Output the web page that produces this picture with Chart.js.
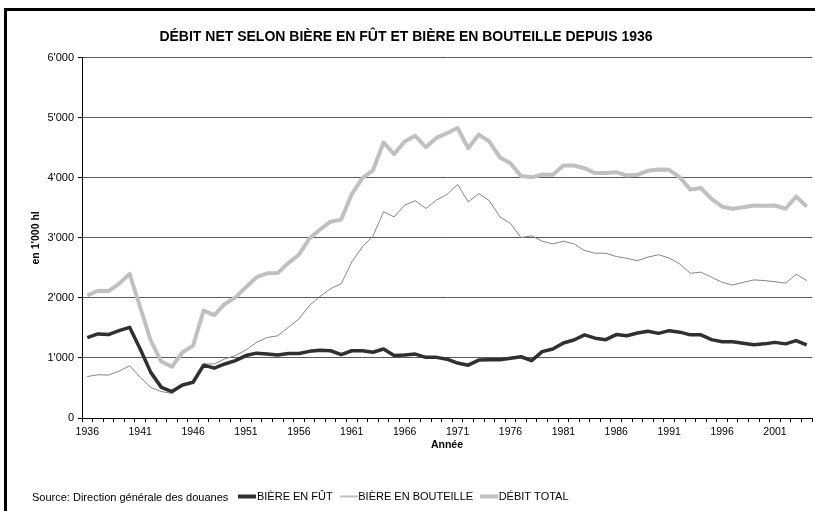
<!DOCTYPE html>
<html>
<head>
<meta charset="utf-8">
<script src="https://cdn.jsdelivr.net/npm/chart.js@4.4.0/dist/chart.umd.min.js"></script>
<style>
    html, body { margin: 0; padding: 0; background: #fff; }
    #wrap { position: relative; width: 815px; height: 511px; overflow: hidden; }
    #frame { position: absolute; left: 4px; top: 8px; width: 900px; height: 600px;
             border-top: 3px solid #000; border-left: 3px solid #000; }
    #lineChart { position: absolute; left: 0; top: 0; }
    #source { position: absolute; left: 32px; top: 491px; line-height: 13px;
              font: 11px "Liberation Sans", Arial, sans-serif; color: #000; white-space: nowrap; }
</style>
</head>
<body>
<div id="wrap">
    <div id="frame"></div>
    <canvas id="lineChart" width="815" height="512"></canvas>
    <div id="source">Source: Direction générale des douanes</div>
</div>
<script>
    /* Data (en 1'000 hl) */
    const years = [
        "1936","1937","1938","1939","1940","1941","1942","1943","1944","1945",
        "1946","1947","1948","1949","1950","1951","1952","1953","1954","1955",
        "1956","1957","1958","1959","1960","1961","1962","1963","1964","1965",
        "1966","1967","1968","1969","1970","1971","1972","1973","1974","1975",
        "1976","1977","1978","1979","1980","1981","1982","1983","1984","1985",
        "1986","1987","1988","1989","1990","1991","1992","1993","1994","1995",
        "1996","1997","1998","1999","2000","2001","2002","2003","2004",
    ];

    const biereFut = [
        1340, 1400, 1390, 1455, 1510, 1150, 760, 510, 440, 550,
        595, 880, 830, 900, 955, 1040, 1080, 1065, 1050, 1075,
        1075, 1110, 1130, 1120, 1055, 1120, 1120, 1095, 1150, 1040,
        1050, 1065, 1010, 1010, 980, 915, 880, 965, 970, 970,
        995, 1020, 955, 1105, 1150, 1250, 1300, 1385, 1330, 1305,
        1390, 1370, 1415, 1445, 1410, 1455, 1430, 1385, 1385, 1305,
        1270, 1270, 1245, 1220, 1235, 1260, 1235, 1290, 1220,
    ];

    const biereBouteille = [
        690, 720, 715, 780, 870, 680, 510, 440, 410, 535,
        585, 900, 900, 985, 1040, 1135, 1260, 1340, 1370, 1510,
        1650, 1875, 2025, 2155, 2235, 2600, 2850, 3030, 3435, 3350,
        3545, 3620, 3490, 3630, 3725, 3890, 3600, 3740, 3620, 3350,
        3240, 3005, 3035, 2945, 2900, 2945, 2900, 2790, 2745, 2745,
        2690, 2660, 2620, 2680, 2720, 2665, 2565, 2410, 2430, 2345,
        2260, 2215, 2260, 2300, 2290, 2270, 2245, 2395, 2290,
    ];

    const debitTotal = [
        2040, 2120, 2115, 2235, 2400, 1845, 1290, 940, 855, 1095,
        1205, 1790, 1715, 1900, 2010, 2180, 2345, 2410, 2415, 2580,
        2720, 2990, 3140, 3270, 3305, 3730, 3995, 4125, 4590, 4395,
        4605, 4700, 4510, 4665, 4745, 4830, 4495, 4720, 4605, 4340,
        4245, 4030, 4010, 4055, 4050, 4205, 4205, 4160, 4080, 4080,
        4095, 4040, 4050, 4120, 4140, 4135, 4010, 3805, 3830, 3650,
        3520, 3485, 3510, 3540, 3535, 3540, 3485, 3690, 3520,
    ];

    const yTicks = [0, 1000, 2000, 3000, 4000, 5000, 6000];

    const FONT = '"Liberation Sans", Arial, sans-serif';
    Chart.defaults.font.family = FONT;
    Chart.defaults.color = '#000';

    // legend marker: a short line segment that runs straight into the label text
    function legendLine(color, width) {
        const c = document.createElement('canvas');
        c.width = 18;
        c.height = 8;
        const g = c.getContext('2d');
        g.fillStyle = color;
        g.fillRect(0, (8 - width) / 2, 18, width);
        return c;
    }

    new Chart(document.getElementById('lineChart'), {
        type: 'line',
        data: {
            labels: years,
            datasets: [
                { label: 'BIÈRE EN FÛT', data: biereFut, borderColor: '#303030', borderWidth: 3.5 },
                { label: 'BIÈRE EN BOUTEILLE', data: biereBouteille, borderColor: '#858585', borderWidth: 1 },
                { label: 'DÉBIT TOTAL', data: debitTotal, borderColor: '#c0c0c0', borderWidth: 4 }
            ]
        },
        options: {
            responsive: false,
            animation: false,
            layout: { padding: { left: 0, right: 3, top: 0, bottom: 0 } },
            elements: {
                point: { radius: 0, hoverRadius: 0 },
                line: { tension: 0, borderJoinStyle: 'round', borderCapStyle: 'butt' }
            },
            plugins: {
                tooltip: { enabled: false },
                title: {
                    display: true,
                    text: 'DÉBIT NET SELON BIÈRE EN FÛT ET BIÈRE EN BOUTEILLE DEPUIS 1936',
                    font: { size: 14, weight: 'bold' },
                    color: '#000',
                    padding: { top: 29, bottom: 12 }
                },
                legend: {
                    position: 'bottom',
                    labels: {
                        usePointStyle: true,
                        pointStyleWidth: 8,
                        boxHeight: 10,
                        padding: 12,
                        font: { size: 11 },
                        color: '#000',
                        generateLabels: chart => chart.data.datasets.map((ds, i) => ({
                            text: ds.label,
                            strokeStyle: ds.borderColor,
                            fillStyle: ds.borderColor,
                            lineWidth: 0,
                            pointStyle: legendLine(ds.borderColor, Math.round(ds.borderWidth)),
                            hidden: false,
                            datasetIndex: i
                        }))
                    }
                }
            },
            scales: {
                x: {
                    offset: true,
                    afterFit: scale => { scale.height = 61; },
                    grid: {
                        display: true,
                        offset: true,
                        drawOnChartArea: false,
                        drawTicks: true,
                        tickLength: 4,
                        color: '#000'
                    },
                    border: { color: '#000', width: 1 },
                    ticks: {
                        autoSkip: false,
                        maxRotation: 0,
                        padding: 4,
                        font: { size: 10.5 },
                        callback: function (val, i) {
                            const y = years[i];
                            return (Number(y) - 1936) % 5 === 0 ? y : '';
                        }
                    },
                    title: {
                        display: true,
                        text: 'Année',
                        font: { size: 10.5, weight: 'bold' },
                        padding: { top: 0, bottom: 28 }
                    }
                },
                y: {
                    min: 0,
                    max: 6000,
                    afterFit: scale => { scale.width = 82; },
                    afterBuildTicks: scale => { scale.ticks = yTicks.map(v => ({ value: v })); },
                    grid: {
                        color: '#5a5a5a',
                        tickColor: '#000',
                        tickLength: 4,
                        lineWidth: 1
                    },
                    border: { color: '#000', width: 1 },
                    ticks: {
                        padding: 4,
                        font: { size: 11 },
                        callback: v => v === 0 ? '0' : (v / 1000) + "'000"
                    },
                    title: {
                        display: true,
                        text: "en 1'000 hl",
                        font: { size: 10.5, weight: 'bold' },
                        padding: { top: 30, bottom: 0 }
                    }
                }
            }
        }
    });
</script>
</body>
</html>
